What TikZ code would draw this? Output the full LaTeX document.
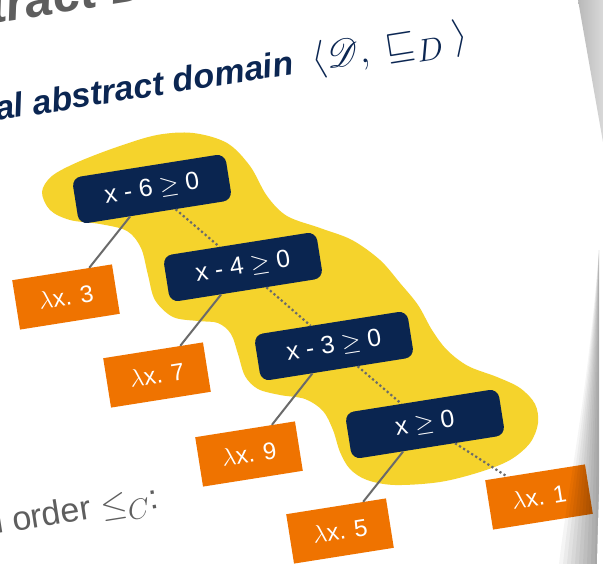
\documentclass[tikz,border=0pt]{standalone}
\usepackage{mathrsfs}
\usepackage{fontspec}
\setmainfont{Liberation Sans}
\definecolor{navy}{HTML}{0B2652}
\definecolor{boxnavy}{HTML}{0A2550}
\definecolor{orng}{HTML}{EF7300}
\definecolor{yel}{HTML}{F5D32C}
\definecolor{lgray}{HTML}{6A6A6A}
\definecolor{txtgray}{HTML}{5E5E5E}
\begin{document}
\begin{tikzpicture}[x=1pt,y=-1pt,
  cond/.style={fill=boxnavy, rounded corners=9pt, minimum width=155pt, minimum height=47pt,
    text=white, rotate=9, inner sep=0pt, font=\fontsize{24.88}{28}\selectfont},
  leaf/.style={fill=orng, minimum width=101pt, minimum height=50pt,
    text=white, rotate=9, inner sep=0pt, font=\fontsize{24}{28}\selectfont},
  yesline/.style={draw=lgray, line width=2pt},
  noline/.style={draw=lgray, line width=2.2pt, dash pattern=on 2.2pt off 2.6pt},
  heading/.style={anchor=base west, rotate=9, inner sep=0pt},
]
\useasboundingbox (0,0) rectangle (603,564);
\fill[white] (0,0) rectangle (603,564);

% yellow region
\fill[yel] plot[smooth cycle, tension=0.55] coordinates {
 (42,192) (52,176) (78,162) (117,147) (157,135) (193,133) (227,143) (250,166)
 (267,196) (287,216) (320,228) (352,240) (380,260) (400,283) (418,305) (432,330)
 (447,350) (468,366) (497,377) (520,388) (535,404) (538,423) (530,443) (510,460)
 (480,472) (440,482) (395,485) (367,480) (350,469) (340,452) (333,430) (323,411)
 (305,399) (280,395) (258,389) (245,376) (238,354) (231,334) (218,323) (198,321)
 (173,317) (155,300) (148,275) (141,248) (127,231) (100,224) (70,220) (50,210)};

% texts
\node[heading, text=txtgray, scale=2.0, font=\fontsize{24.88}{30}\selectfont\bfseries\itshape]
  (frametitle) at (-8,24) {tract D};
\node[heading, text=navy, scale=1.37, font=\fontsize{24.88}{30}\selectfont\bfseries\itshape]
  (title) at (-3,121) {al abstract domain\hspace{0.55em}\scalebox{1.12}{$\langle\mathscr{D},\;\sqsubseteq_D\;\rangle$}};
\node[heading, text=txtgray, scale=1.37, font=\fontsize{24.88}{30}\selectfont]
  (order) at (-3,534) {l order $\leq_C$:};

% decision nodes
\node[cond] (d1) at (152,189) {x - 6 $\geq$ 0};
\node[cond] (d2) at (243,267) {x - 4 $\geq$ 0};
\node[cond] (d3) at (334,346) {x - 3 $\geq$ 0};
\node[cond] (d4) at (425,424) {x $\geq$ 0};

% leaves
\node[leaf] (o1) at (66,297) {$\lambda$x. 3};
\node[leaf] (o2) at (157,375) {$\lambda$x. 7};
\node[leaf] (o3) at (249,454) {$\lambda$x. 9};
\node[leaf] (o4) at (340,531) {$\lambda$x. 5};
\node[leaf] (o5) at (539,497) {$\lambda$x. 1};

% connectors
\draw[yesline] (d1) -- (o1);
\draw[yesline] (d2) -- (o2);
\draw[yesline] (d3) -- (o3);
\draw[yesline] (d4) -- (o4);
\draw[noline] (d1) -- (d2);
\draw[noline] (d2) -- (d3);
\draw[noline] (d3) -- (d4);
\draw[noline] (d4) -- (o5);

% page edge shadow
\shade[left color=gray!55, right color=gray!30] (578,0) -- (603,0) -- (603,142) -- cycle;
\foreach \f in {0.1,0.2,...,1.0}{
  \fill[black, fill opacity=0.04]
    (599,250) .. controls ({599-12*\f},400) and ({599-30*\f},480) .. ({599-40*\f},564)
    -- (599,564) -- cycle;
}
\fill[white] (603,390) .. controls (600,460) and (598,520) .. (597,564) -- (603,564) -- cycle;
\end{tikzpicture}
\end{document}
